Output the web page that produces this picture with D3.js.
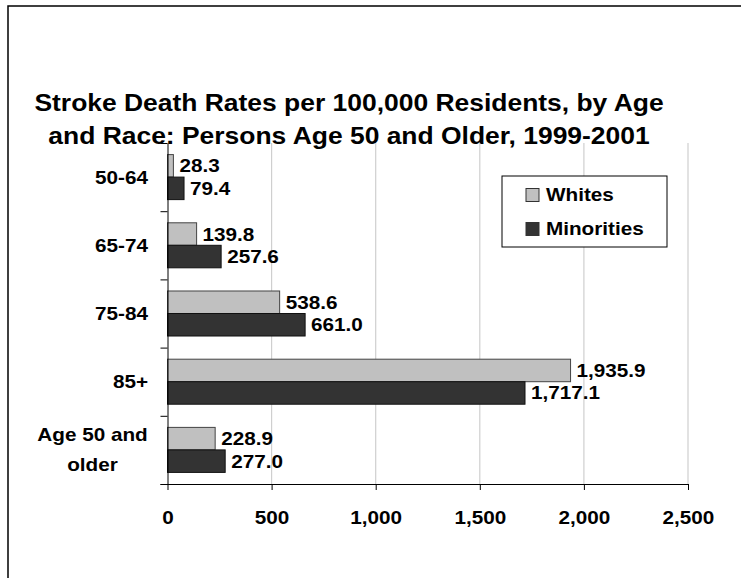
<!DOCTYPE html>
<html>
  <head>
    <meta charset="utf-8">
    <title>Stroke Death Rates</title>
    <script src="https://d3js.org/d3.v7.min.js"></script>
    <style>
      body { margin: 0; background: #fff; overflow: hidden; }
      svg { display: block; }
      svg text { font-family: "Liberation Sans", Arial, sans-serif; font-weight: bold; fill: #000; }
    </style>
  </head>
  <body>
  <div id="chart"></div>
  <script>
    // data
    var categories = [["50-64"], ["65-74"], ["75-84"], ["85+"], ["Age 50 and", "older"]];
    var seriesNames = ["Whites", "Minorities"];
    var whites = [28.3, 139.8, 538.6, 1935.9, 228.9];
    var minorities = [79.4, 257.6, 661.0, 1717.1, 277.0];
    var xTicks = [0, 500, 1000, 1500, 2000, 2500];
    var titleLines = ["Stroke Death Rates per 100,000 Residents, by Age",
                      "and Race: Persons Age 50 and Older, 1999-2001"];
    var colors = {Whites: "#c0c0c0", Minorities: "#333333"};

    var W = 741, H = 578;
    var SX = 1.15; // text in the picture is a bit wide
    var plot = {left: 167.5, right: 688, top: 143, bottom: 484};

    var svg = d3.select("#chart").append("svg")
                .attr("width", W).attr("height", H);

    // outer frame, only its top and left edges are in view
    svg.append("rect")
       .attr("x", 8).attr("y", 6).attr("width", W + 40).attr("height", H + 40)
       .attr("fill", "none").attr("stroke", "#000").attr("stroke-width", 1.5);

    function place(sel, x, y) {
      return sel.attr("transform", `translate(${x},${y}) scale(${SX},1)`);
    }

    // title
    titleLines.forEach(function (t, i) {
      place(svg.append("text"), 349, 111 + i * 33)
        .attr("text-anchor", "middle")
        .style("font-size", "23px")
        .text(t);
    });

    var keys = categories.map(function (c) { return c.join(" "); });
    var x = d3.scaleLinear().domain([0, 2500]).range([plot.left, plot.right]);
    var y = d3.scaleBand().domain(keys).range([plot.top, plot.bottom])
              .paddingInner(0.34).paddingOuter(0.17);
    var ySub = d3.scaleBand().domain(seriesNames).range([0, y.bandwidth()]);
    var yEdge = d3.scaleLinear().domain([0, keys.length]).range([plot.top, plot.bottom]);

    // gridlines
    svg.append("g")
       .selectAll("line")
       .data(xTicks.slice(1))
       .enter()
       .append("line")
         .attr("x1", function (d) { return x(d); })
         .attr("x2", function (d) { return x(d); })
         .attr("y1", plot.top).attr("y2", plot.bottom)
         .attr("stroke", "#cfcfcf").attr("stroke-width", 1.2);

    // bars
    var rows = keys.map(function (k, i) {
      return {key: k, Whites: whites[i], Minorities: minorities[i]};
    });
    var groups = svg.append("g").selectAll("g")
       .data(rows).enter().append("g")
         .attr("transform", function (d) { return `translate(0,${y(d.key)})`; });

    seriesNames.forEach(function (s) {
      groups.append("rect")
        .attr("x", x(0))
        .attr("y", ySub(s))
        .attr("width", function (d) { return x(d[s]) - x(0); })
        .attr("height", ySub.bandwidth())
        .attr("fill", colors[s])
        .attr("stroke", s === "Whites" ? "#444" : "#111")
        .attr("stroke-width", 1);

      groups.each(function (d) {
        place(d3.select(this).append("text"), x(d[s]) + 6, ySub(s) + ySub.bandwidth() / 2)
          .attr("dy", "0.36em")
          .style("font-size", "18px")
          .text(d3.format(",.1f")(d[s]));
      });
    });

    // y axis, ticks between categories
    var yAxis = svg.append("g")
       .attr("transform", `translate(${plot.left},0)`)
       .call(d3.axisLeft(yEdge).ticks(keys.length).tickSize(7).tickSizeOuter(0).tickFormat(""));
    yAxis.selectAll("line, path").attr("stroke", "#000");

    // category labels
    categories.forEach(function (lines, i) {
      var cy = y(keys[i]) + y.bandwidth() / 2;
      var g = svg.append("g");
      if (lines.length === 1) {
        place(g.append("text"), 148, cy)
          .attr("text-anchor", "end").attr("dy", "0.36em")
          .style("font-size", "18px").text(lines[0]);
      } else {
        var widest = 111;
        lines.forEach(function (l, j) {
          place(g.append("text"), 148 - widest / 2, cy + (j - (lines.length - 1) / 2) * 30)
            .attr("text-anchor", "middle").attr("dy", "0.36em")
            .style("font-size", "18px").text(l);
        });
      }
    });

    // x axis
    var xAxis = svg.append("g")
       .attr("transform", `translate(0,${plot.bottom})`)
       .call(d3.axisBottom(x).tickValues(xTicks).tickSize(6).tickSizeOuter(0)
               .tickFormat(d3.format(",")));
    xAxis.select(".domain").attr("d", `M${plot.left - 7},0.5H${plot.right}`).attr("stroke", "#000");
    xAxis.selectAll(".tick line").attr("stroke", "#000");
    xAxis.selectAll(".tick text")
         .attr("y", 0).attr("dy", 0)
         .attr("transform", `translate(0,40) scale(${SX},1)`)
         .style("font-size", "18px");

    // legend
    var legend = svg.append("g").attr("transform", "translate(502,176)");
    legend.append("rect")
      .attr("width", 165).attr("height", 71)
      .attr("fill", "#fff").attr("stroke", "#000").attr("stroke-width", 1);
    seriesNames.forEach(function (s, i) {
      legend.append("rect")
        .attr("x", 24).attr("y", 12.5 + i * 34)
        .attr("width", 13).attr("height", 13)
        .attr("fill", colors[s]).attr("stroke", "#333");
      place(legend.append("text"), 44, 19 + i * 34)
        .attr("dy", "0.36em")
        .style("font-size", "18px")
        .text(s);
    });
  </script>
  </body>
</html>
